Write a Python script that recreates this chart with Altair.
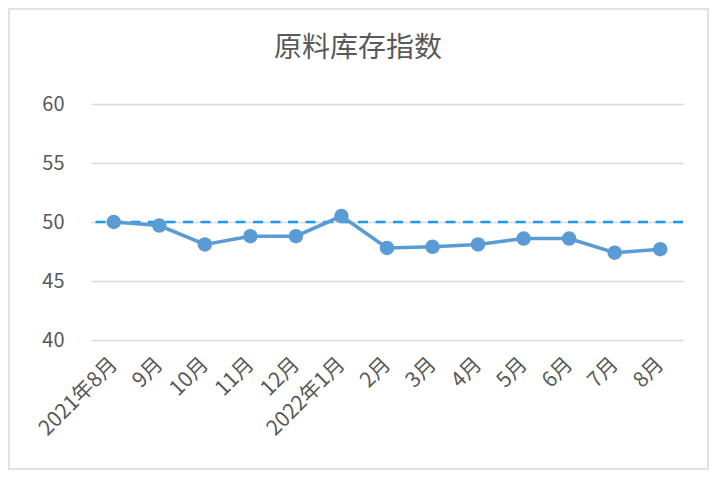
import altair as alt
import pandas as pd

months = ["2021年8月", "9月", "10月", "11月", "12月", "2022年1月", "2月", "3月",
          "4月", "5月", "6月", "7月", "8月"]
values = [50.0, 49.7, 48.1, 48.8, 48.8, 50.5, 47.8, 47.9, 48.1, 48.6, 48.6, 47.4, 47.7]
threshold = [50]
title_text = "原料库存指数"

df = pd.DataFrame({"month": months, "value": values})
FONT = "Noto Sans CJK SC"
W, H = 592, 236

x_enc = alt.X("month:N", sort=None, title=None,
              scale=alt.Scale(type="point", padding=0.5),
              axis=alt.Axis(labelAngle=-45, labelAlign="right", labelBaseline="middle",
                            labelPadding=21, ticks=False, domain=False, grid=False,
                            labelFont=FONT, labelFontSize=21, labelColor="#595959"))
y_enc = alt.Y("value:Q", title=None,
              scale=alt.Scale(domain=[40, 60], nice=False, zero=False),
              axis=alt.Axis(values=[40, 45, 50, 55, 60], ticks=False, domain=False,
                            labelPadding=27, grid=True, gridColor="#d9d9d9", gridWidth=1.5,
                            labelFont=FONT, labelFontSize=20, labelColor="#595959"))

base = alt.Chart(df)
line = base.mark_line(color="#5B9BD5", strokeWidth=3.5).encode(x=x_enc, y=y_enc)
pts = base.mark_point(filled=True, opacity=1, color="#5B9BD5", size=210).encode(x=x_enc, y=y_enc)

rule = alt.Chart(pd.DataFrame({"t": threshold})).mark_rule(
    color="#1a9af0", strokeWidth=2.5, strokeDash=[10, 7.5]
).encode(y=alt.Y("t:Q", scale=alt.Scale(domain=[40, 60], nice=False, zero=False)))

border = alt.Chart(alt.Data(values=[{}])).mark_rect(
    fill=None, stroke="#d9d9d9", strokeWidth=1.5
).encode(x=alt.value(-82), x2=alt.value(617), y=alt.value(-95), y2=alt.value(365))

title = alt.Chart(pd.DataFrame({"t": [title_text]})).mark_text(
    font=FONT, fontSize=28, color="#595959", align="center", baseline="middle"
).encode(text="t:N", x=alt.value(267), y=alt.value(-55))

chart = alt.layer(border, rule, line, pts, title).properties(
    width=W, height=H,
    autosize=alt.AutoSizeParams(type="none"),
    padding={"left": 83, "top": 96, "right": 28, "bottom": 132},
).configure(background="white").configure_view(stroke=None)

chart.save("out.html", embed_options={"renderer": "svg", "actions": False})
